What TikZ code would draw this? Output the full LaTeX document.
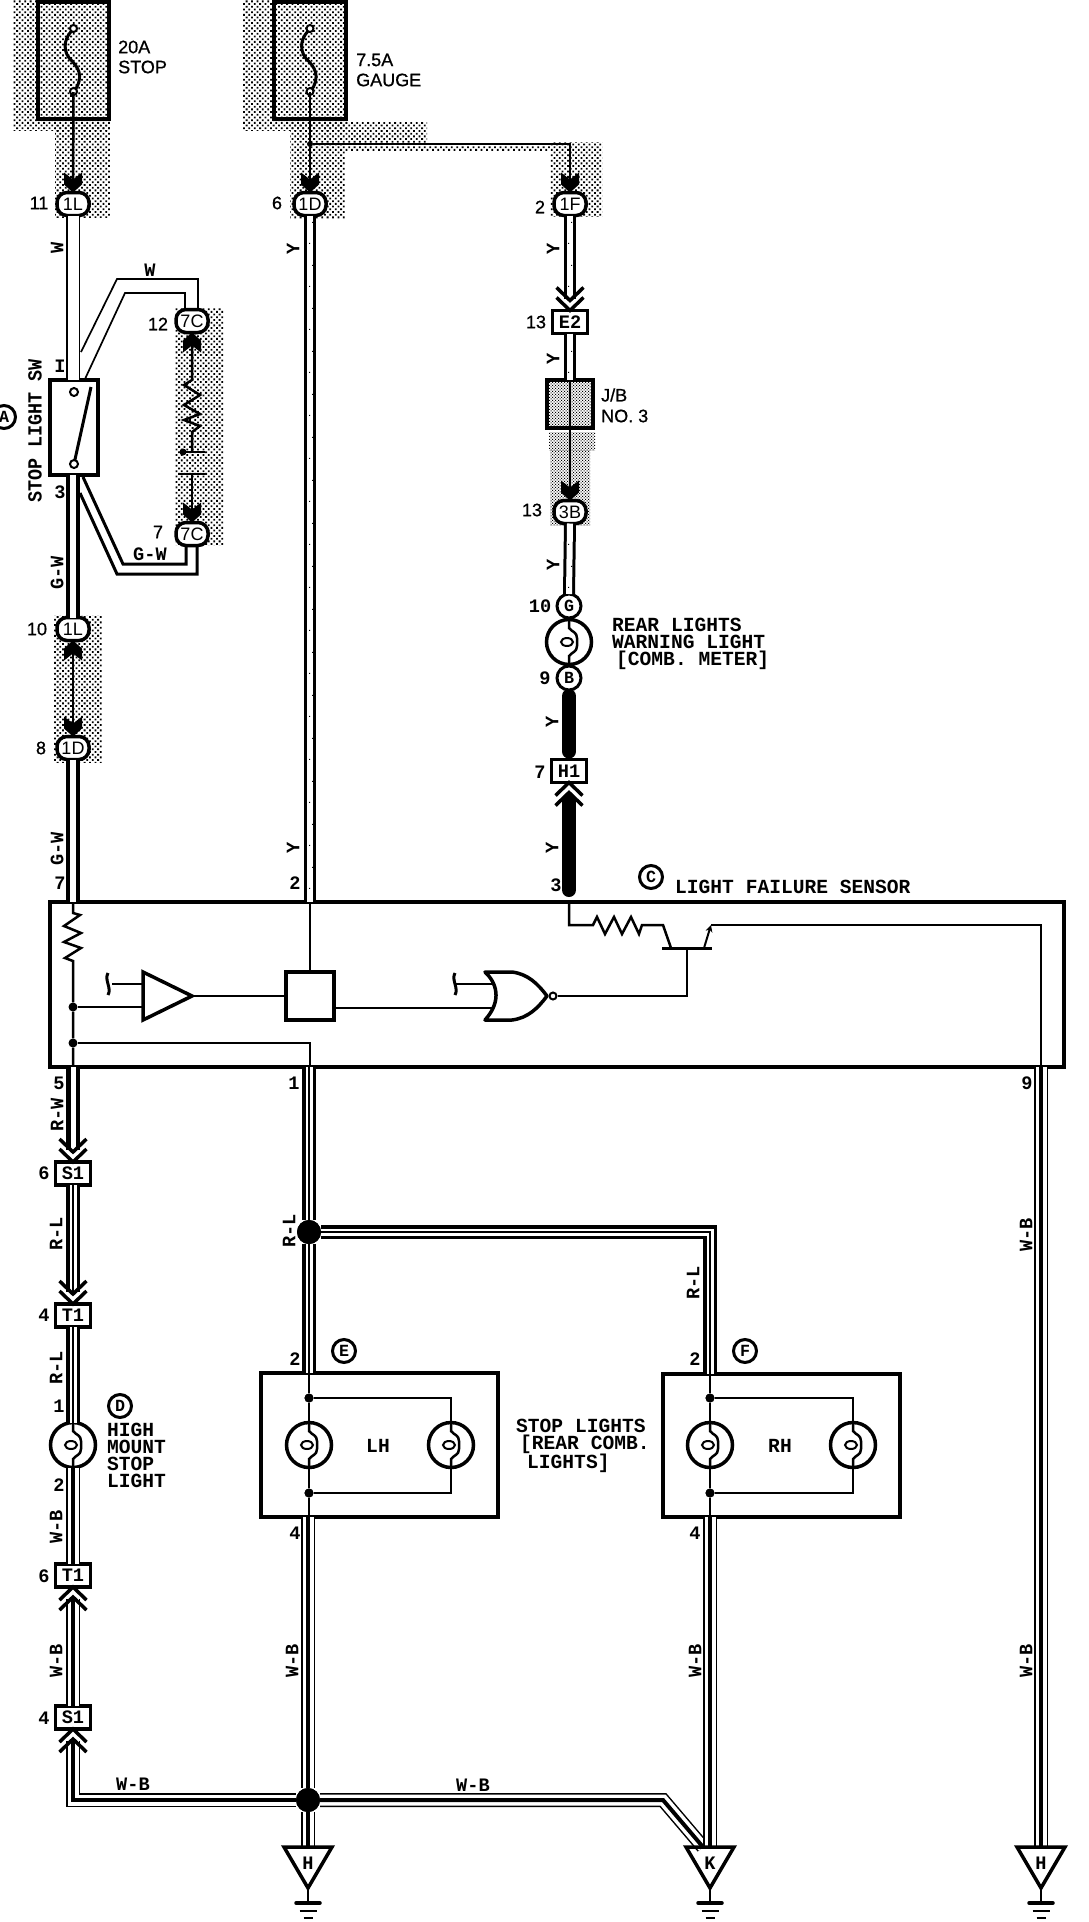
\documentclass[tikz,border=0pt]{standalone}
\usepackage{fontspec}
\usepackage{graphicx}
\usetikzlibrary{patterns,arrows.meta,calc}
\setmainfont{Liberation Sans}
\newfontfamily\sansb[FakeBold=0.8]{Liberation Sans}
\newfontfamily\mn[FakeStretch=0.98]{Liberation Mono}
\pgfdeclarepatternformonly{stipcoarse}{\pgfqpoint{-.1pt}{-.1pt}}{\pgfqpoint{5.9pt}{5.9pt}}{\pgfqpoint{5.4pt}{5.4pt}}{%
 \pgfpathrectangle{\pgfqpoint{0pt}{0pt}}{\pgfqpoint{1.8pt}{1.8pt}}%
 \pgfpathrectangle{\pgfqpoint{2.7pt}{2.7pt}}{\pgfqpoint{1.8pt}{1.8pt}}\pgfusepath{fill}}
\pgfdeclarepatternformonly{stipfine}{\pgfqpoint{-.1pt}{-.1pt}}{\pgfqpoint{3.1pt}{3.1pt}}{\pgfqpoint{3pt}{3pt}}{%
 \pgfpathrectangle{\pgfqpoint{0pt}{0pt}}{\pgfqpoint{1.1pt}{1.1pt}}%
 \pgfpathrectangle{\pgfqpoint{1.5pt}{1.5pt}}{\pgfqpoint{1.1pt}{1.1pt}}\pgfusepath{fill}}
\pgfdeclarepatternformonly{stipsparse}{\pgfqpoint{-.1pt}{-.1pt}}{\pgfqpoint{7.1pt}{43.1pt}}{\pgfqpoint{7pt}{43pt}}{%
 \pgfpathrectangle{\pgfqpoint{1pt}{1pt}}{\pgfqpoint{1.2pt}{1.2pt}}%
 \pgfpathrectangle{\pgfqpoint{4pt}{22pt}}{\pgfqpoint{1.2pt}{1.2pt}}\pgfusepath{fill}}
\newcommand{\rlw}[1]{\draw[rlout] #1; \draw[rlin] #1;}
\newcommand{\wbw}[1]{\draw[wbout] #1; \draw[wbin] #1;}
\tikzset{
 x=1pt,y=-1pt,
 sansl/.style={font=\sansb\fontsize{18}{18}\selectfont,inner sep=0pt},
 monol/.style={font=\mn\bfseries\fontsize{20}{17}\selectfont,inner sep=0pt},
 monosm/.style={font=\mn\bfseries\fontsize{19}{19}\selectfont,inner sep=0pt},
 oval/.style={draw,line width=3.5pt,rounded corners=10pt,fill=white,minimum width=32pt,minimum height=23pt,inner sep=0pt,outer sep=0pt,font=\fontsize{18}{18}\selectfont},
 conbox/.style={draw,line width=3.5pt,fill=white,minimum width=35pt,minimum height=23pt,inner sep=0pt,outer sep=0pt,font=\mn\bfseries\fontsize{19}{19}\selectfont},
 pincirc/.style={draw,circle,line width=3pt,fill=white,minimum size=24pt,inner sep=0pt,outer sep=0pt,font=\mn\bfseries\fontsize{17}{17}\selectfont},
 tagcirc/.style={draw,circle,line width=3pt,fill=white,minimum size=23pt,inner sep=0pt,outer sep=0pt,font=\mn\bfseries\fontsize{17}{17}\selectfont},
 lampc/.style={draw,circle,line width=3.5pt,fill=white,minimum size=45pt,inner sep=0pt,outer sep=0pt},
 frame/.style={draw,line width=4pt,inner sep=0pt,outer sep=0pt},
 dotj/.style={circle,fill=black,minimum size=9pt,inner sep=0pt},
 bigj/.style={circle,fill=black,minimum size=24pt,inner sep=0pt},
 thin1/.style={line width=2.5pt},
 wwire/.style={line width=1.7pt,double=white,double distance=11pt},
 ywire/.style={line width=3pt,double=white,double distance=6pt},
 gwire/.style={line width=4pt,double=white,double distance=5.3pt},
 rlout/.style={line width=3.5pt,double=white,double distance=7pt},
 rlin/.style={line width=1.5pt},
 wbout/.style={line width=1.5pt,double=white,double distance=11pt},
 wbin/.style={line width=4pt},
 blk/.style={line width=14pt,line cap=round},
 stip/.style={pattern=stipcoarse},
 chevline/.style={line width=3.5pt},
 chevd/.pic={\draw[chevline] (-13.5,-13)--(0,0)--(13.5,-13) (-13.5,-23)--(0,-10)--(13.5,-23);},
 chevu/.pic={\draw[chevline] (-13.5,13)--(0,0)--(13.5,13) (-13.5,23)--(0,10)--(13.5,23);},
 arrd/.pic={\fill (-9,-20)--(0,-13)--(9,-20)--(9,-8)--(0,0)--(-9,-8)--cycle;},
 arru/.pic={\fill (-9,20)--(0,13)--(9,20)--(9,8)--(0,0)--(-9,8)--cycle;},
 fil/.pic={\draw[line width=2.5pt] (0,-24)--(0,-14) .. controls (3,-10) and (8,-10) .. (8,-4) -- (8,4) .. controls (8,10) and (3,10) .. (0,14) -- (0,24);
   \draw[line width=2pt] (-2,0) ellipse (6pt and 4pt);},
 fuse/.pic={\draw[line width=3pt] (0,-31) .. controls (-8,-25) and (-12,-12) .. (-4,-2) .. controls (4,6) and (12,15) .. (0,32);
   \draw[line width=2pt,fill=white] (0,-32) circle (3.5pt) (0,31) circle (3.5pt);},
 squig/.pic={\draw[line width=3pt] (0,-11) .. controls (-4,-4) and (4,4) .. (0,11);},
 gnd/.pic={\draw[line width=3.5pt,line join=miter] (-24,0)--(24,0)--(0,41)--cycle;
   \draw[line width=2pt] (0,41)--(0,56);
   \draw[line width=3.5pt,line cap=round] (-12,56)--(12,56);
   \draw[line width=1.6pt] (-8.5,64)--(8.5,64);
   \draw[line width=2.2pt] (-4.5,71)--(4.5,71);},
}
\begin{document}
\begin{tikzpicture}
\useasboundingbox (0,0) rectangle (1088,1922);
\fill[white] (0,0) rectangle (1088,1922);
% stippled regions
\fill[stip] (13,0) rectangle (110,130);
\fill[stip] (55,125) rectangle (110,217);
\fill[stip] (243,0) rectangle (347,130);
\fill[stip] (290,122) rectangle (345,218);
\fill[stip] (345,122) rectangle (427,143);
\fill[stip] (345,146) rectangle (550,150);
\fill[stip] (550,142) rectangle (602,216);
\fill[stip] (175,308) rectangle (223,545);
\fill[stip] (54,615) rectangle (102,762);
\fill[pattern=stipfine] (549,432) rectangle (595,450);
\fill[pattern=stipfine] (550,450) rectangle (590,525);
\fill[pattern=stipfine] (547,380) rectangle (593,428);
% frames
\node[frame,minimum width=71pt,minimum height=117pt] (fuse1) at (73.5,60.5) {};
\node[frame,minimum width=72pt,minimum height=117pt] (fuse2) at (310,60.5) {};
\node[frame,line width=3.5pt,minimum width=48pt,minimum height=95pt] (sw) at (74,427.5) {};
\node[frame,line width=4pt,minimum width=46pt,minimum height=48pt] (jb) at (570,404) {};
\node[frame,minimum width=1014.5pt,minimum height=165pt] (sens) at (556.75,984.5) {};
\node[frame,minimum width=237pt,minimum height=144pt] (boxE) at (379.5,1445) {};
\node[frame,minimum width=237pt,minimum height=143pt] (boxF) at (781.5,1445.5) {};
\node[frame,line width=3.5pt,minimum width=48pt,minimum height=48pt] (sq) at (310,996) {};
% connector nodes
\node[oval] (c1La) at (73,204) {1L};
\node[oval] (c1Db) at (310,204) {1D};
\node[oval] (c1F) at (570,204) {1F};
\node[oval] (c7Ca) at (192,321) {7C};
\node[oval] (c7Cb) at (192,534) {7C};
\node[oval] (c1Lb) at (73,629) {1L};
\node[oval] (c1Da) at (73,748) {1D};
\node[oval] (c3B) at (570,512) {3B};
\node[conbox] (cE2) at (570,322) {E2};
\node[conbox] (cH1) at (569,771) {H1};
\node[conbox] (cS1a) at (73,1173.5) {S1};
\node[conbox] (cT1a) at (73,1315.5) {T1};
\node[conbox] (cT1b) at (73,1575.5) {T1};
\node[conbox] (cS1b) at (73,1717.5) {S1};
\node[pincirc] (cG) at (569,606) {G};
\node[pincirc] (cB) at (569,678) {B};
% lamps
\node[lampc] (lW) at (569,642) {};
\node[lampc] (lD) at (73,1445) {};
\node[lampc] (lE1) at (309,1445) {};
\node[lampc] (lE2) at (451,1445) {};
\node[lampc] (lF1) at (710,1445) {};
\node[lampc] (lF2) at (853,1445) {};
\foreach \n in {lW,lD,lE1,lE2,lF1,lF2} {\pic at (\n) {fil};}
\pic at (fuse1) {fuse};
\pic at (fuse2) {fuse};
% junctions
\node[dotj,minimum size=6pt] (jG) at (310,144) {};
\node[dotj] (j1) at (73,1007) {};
\node[dotj] (j2) at (73,1043) {};
\node[bigj] (jR) at (309,1232) {};
\node[bigj] (jH) at (308,1800) {};
\node[dotj] (jE1) at (309,1398) {};
\node[dotj] (jE2) at (309,1493) {};
\node[dotj] (jF1) at (710,1398) {};
\node[dotj] (jF2) at (710,1493) {};
% named free ends
\coordinate (tH1) at (308,1847);
\coordinate (tK) at (710,1847);
\coordinate (tH2) at (1041,1847);
\coordinate (cornL) at (73,1800);
\coordinate (cornK) at (663,1800);
\coordinate (kEnd) at (703,1847);
\coordinate (cornR) at (710,1232);
\coordinate (f2tee) at (570,144);
% fuse wires
\draw[thin1] (73.5,92) -- (c1La.north);
\draw[thin1] (310,92) -- (c1Db.north);
\draw[thin1] (jG) -- (f2tee) -- (c1F.north);
\pic at (c1La.north) {arrd};
\pic at (c1Db.north) {arrd};
\pic at (c1F.north) {arrd};
% top left double wires
\draw[wwire] (c1La.south) -- (c1La.south |- sw.north);
\draw[line width=1.7pt] (81,352) -- (117,279) -- (198,279) -- (198,309);
\draw[line width=1.7pt] (85,379) -- (125,293) -- (185,293) -- (185,309);
% lower switch branch
\draw[line width=3pt] (83,477) -- (123,564) -- (186,564) -- (186,545);
\draw[line width=3pt] (80,493) -- (117,574) -- (197,574) -- (197,545);
\draw[gwire] (sw.south) ++(-1,0) -- (c1Lb.north);
\draw[thin1] (c1Lb.south) -- (c1Da.north);
\pic at (c1Lb.south) {arru};
\pic at (c1Da.north) {arrd};
\draw[gwire] (c1Da.south) -- (c1Da.south |- sens.north);
% switch interior
\draw[line width=3pt] (74,464) -- (91,387);
\draw[line width=2pt,fill=white] (74,392) circle (4pt) (74,464) circle (4pt);
% 7C branch
\coordinate (r7top) at (192,380);
\coordinate (r7bot) at (192,432);
\draw[line width=2.5pt] (c7Ca.south) -- (r7top) -- (184,385) -- (200,395) -- (184,405) -- (200,414) -- (184,420) -- (200,426) -- (r7bot) -- (192,452);
\draw[line width=2.5pt] (180,452) -- (205,452);
\fill (183,452) circle (3.5pt);
\draw[line width=2.5pt] (178,474) -- (205,474);
\draw[line width=2.5pt] (192,474) -- (c7Cb.north);
\pic at (c7Ca.south) {arru};
\pic at (c7Cb.north) {arrd};
% Y wires
\draw[ywire] (c1Db.south) -- (c1Db.south |- sens.north);
\draw[ywire] (c1F.south) -- ([yshift=12pt]cE2.north);
\pic at (cE2.north) {chevd};
\draw[ywire] (cE2.south) -- (cE2.south |- jb.north);
\draw[thin1] (jb.north) -- (c3B.north);
\pic at (c3B.north) {arrd};
\draw[ywire] (c3B.south) -- (cG.north);
\fill[pattern=stipsparse] (307,218) rectangle (313,900);
\fill[pattern=stipsparse] (567,218) rectangle (573,290);
\fill[pattern=stipsparse] (567,335) rectangle (573,380);
\fill[pattern=stipsparse] (567,526) rectangle (573,590);
% thick black
\draw[blk,shorten <=6pt,shorten >=8pt] (cB.south) -- (cH1.north);
\draw[blk,shorten <=18pt,shorten >=12pt] (cH1.south) -- (cH1.south |- sens.north);
\pic at (cH1.south) {chevu};
% sensor interior
\draw[thin1] (73,902) -- (73,913) -- (80,915) -- (64,926) -- (81,933) -- (64,942) -- (81,948) -- (65,958) -- (73,961) -- (j1) -- (j2) -- (73,1067);
\draw[line width=3.5pt,line join=miter] (143,972) -- (143,1020) -- (192,996) -- cycle;
\draw[thin1] (j1) -- (143,1007);
\draw[thin1] (112,984) -- (143,984);
\pic at (108,984) {squig};
\draw[thin1] (192,996) -- (sq.west);
\draw[thin1] (sq.north) -- (sq.north |- sens.north);
\draw[thin1] (j2) -- (310,1043) -- (310,1067);
\draw[thin1] (sq.east |- 0,1008) -- (494,1008);
\draw[thin1] (455,984) -- (494,984);
\pic at (455,984) {squig};
\draw[line width=3.5pt,line join=round] (485,972) .. controls (496,982) and (503,1000) .. (485,1020) -- (512,1020) .. controls (528,1018) and (538,1008) .. (547,996) .. controls (538,984) and (528,974) .. (512,972) -- cycle;
\node[draw,circle,line width=2pt,fill=white,minimum size=7pt,inner sep=0pt] (bub) at (553,996) {};
\draw[thin1] (bub.east) -- (687,996) -- (687,948);
\draw[thin1] (569,902) -- (569,925) -- (593,925) -- (597,917) -- (605,934) -- (614,917) -- (622,934) -- (631,917) -- (639,934) -- (642,925) -- (663,925) -- (671,948);
\draw[line width=3pt] (662,948) -- (712,948);
\draw[line width=2pt,-{Stealth[length=7pt,width=7pt]}] (704,948) -- (711,925);
\draw[thin1] (711,925) -- (1041,925) -- (1041,1067);
% wires below sensor
\draw[gwire,line width=4.5pt,double distance=5pt,shorten >=12pt] (cS1a.north |- sens.south) -- (cS1a.north);
\pic at (cS1a.north) {chevd};
\rlw{(cS1a.south) -- ([yshift=12pt]cT1a.north)}
\pic at (cT1a.north) {chevd};
\rlw{(cT1a.south) -- (lD.north)}
\wbw{(lD.south) -- (cT1b.north)}
\wbw{([yshift=-12pt]cT1b.south) -- (cS1b.north)}
\pic at (cT1b.south) {chevu};
\wbw{([yshift=-12pt]cS1b.south) -- (cornL) -- (jH)}
\pic at (cS1b.south) {chevu};
\wbw{(jH) -- (cornK) -- (kEnd)}
\rlw{(jR |- sens.south) -- (jR)}
\rlw{(jR) -- (boxE.north -| jR)}
\rlw{(jR) -- (cornR) -- (boxF.north -| lF1)}
\wbw{(boxE.south -| jH) -- (jH)}
\wbw{(jH) -- (tH1)}
\wbw{(boxF.south -| lF1) -- (tK)}
\wbw{(tH2 |- sens.south) -- (tH2)}
\node[bigj] at (jR) {};
\node[bigj] at (jH) {};
\pic at (tH1) {gnd};
\pic at (tK) {gnd};
\pic at (tH2) {gnd};
% lamp boxes interior
\draw[thin1] (boxE.north -| lE1) -- (jE1) -- (lE1.north);
\draw[thin1] (lE1.south) -- (jE2) -- (boxE.south -| lE1);
\draw[thin1] (jE1) -- (lE2 |- jE1) -- (lE2.north);
\draw[thin1] (jE2) -- (lE2 |- jE2) -- (lE2.south);
\draw[thin1] (boxF.north -| lF1) -- (jF1) -- (lF1.north);
\draw[thin1] (lF1.south) -- (jF2) -- (boxF.south -| lF1);
\draw[thin1] (jF1) -- (lF2 |- jF1) -- (lF2.north);
\draw[thin1] (jF2) -- (lF2 |- jF2) -- (lF2.south);
\node[dotj] at (jE1) {};\node[dotj] at (jE2) {};\node[dotj] at (jF1) {};\node[dotj] at (jF2) {};
% tag circles
\node[tagcirc] (tA) at (4,417) {A};
\node[tagcirc] (tC) at (651,877) {C};
\node[tagcirc] (tD) at (120,1406) {D};
\node[tagcirc] (tE) at (344,1351) {E};
\node[tagcirc] (tF) at (745,1351) {F};
% sans labels
\node[sansl,anchor=west,align=left] (t20A) at (118,47) {20A};
\node[sansl,anchor=west,align=left] (tSTOP) at (118,67) {STOP};
\node[sansl,anchor=west] (t75A) at (356,60) {7.5A};
\node[sansl,anchor=west] (tGAUGE) at (356,80) {GAUGE};
\node[sansl,anchor=west] (tJB) at (601,395) {J/B};
\node[sansl,anchor=west] (tNO) at (601,416) {NO. 3};
\node[sansl] (n11) at (39,203) {11};
\node[sansl] (n6a) at (277,203) {6};
\node[sansl] (n2a) at (540,207) {2};
\node[sansl] (n12) at (158,324) {12};
\node[sansl] (n7a) at (158,532) {7};
\node[sansl] (n10a) at (37,629) {10};
\node[sansl] (n8) at (41,748) {8};
\node[sansl] (n13a) at (536,322) {13};
\node[sansl] (n13b) at (532,510) {13};
% mono labels
\node[monosm] (n1t) at (60,366) {I};
\node[monosm] (n3a) at (60,492) {3};
\node[monosm] (n7b) at (60,883) {7};
\node[monosm] (n2b) at (295,883) {2};
\node[monosm] (n10b) at (540,606) {10};
\node[monosm] (n9a) at (545,678) {9};
\node[monosm] (n7c) at (540,772) {7};
\node[monosm] (n3b) at (556,885) {3};
\node[monosm] (n5) at (59,1083) {5};
\node[monosm] (n1b) at (294,1083) {1};
\node[monosm] (n9b) at (1027,1083) {9};
\node[monosm] (n6b) at (44,1173) {6};
\node[monosm] (n4a) at (44,1315) {4};
\node[monosm] (n1c) at (59,1406) {1};
\node[monosm] (n2c) at (59,1485) {2};
\node[monosm] (n6c) at (44,1576) {6};
\node[monosm] (n4b) at (44,1718) {4};
\node[monosm] (n2d) at (295,1359) {2};
\node[monosm] (n4c) at (295,1533) {4};
\node[monosm] (n2e) at (695,1359) {2};
\node[monosm] (n4d) at (695,1533) {4};
% wire colour labels
\node[monosm] (wW) at (150,270) {W};
\node[monosm] (wGW) at (150,554) {G-W};
\node[monosm,rotate=90] (w1) at (57,248) {W};
\node[monosm,rotate=90] (w2) at (293,249) {Y};
\node[monosm,rotate=90] (w3) at (553,249) {Y};
\node[monosm,rotate=90] (w4) at (553,359) {Y};
\node[monosm,rotate=90] (w5) at (553,565) {Y};
\node[monosm,rotate=90] (w6) at (552,722) {Y};
\node[monosm,rotate=90] (w7) at (552,848) {Y};
\node[monosm,rotate=90] (w8) at (293,848) {Y};
\node[monosm,rotate=90] (w9) at (57,573) {G-W};
\node[monosm,rotate=90] (w10) at (57,849) {G-W};
\node[monosm,rotate=90] (w11) at (57,1115) {R-W};
\node[monosm,rotate=90] (w12) at (56,1234) {R-L};
\node[monosm,rotate=90] (w13) at (56,1368) {R-L};
\node[monosm,rotate=90] (w14) at (289,1231) {R-L};
\node[monosm,rotate=90] (w15) at (693,1283) {R-L};
\node[monosm,rotate=90] (w16) at (56,1527) {W-B};
\node[monosm,rotate=90] (w17) at (56,1661) {W-B};
\node[monosm,rotate=90] (w18) at (292,1661) {W-B};
\node[monosm,rotate=90] (w19) at (695,1661) {W-B};
\node[monosm,rotate=90] (w20) at (1026,1235) {W-B};
\node[monosm,rotate=90] (w21) at (1026,1661) {W-B};
\node[monosm] (w22) at (133,1784) {W-B};
\node[monosm] (w23) at (473,1785) {W-B};
% mono descriptions
\node[monol,rotate=90] (tSW) at (35,431) {\scalebox{0.94}[1]{STOP LIGHT SW}};
\node[monol,anchor=west,align=left] (tRear) at (612,644) {REAR LIGHTS\\WARNING LIGHT\\\hspace*{4pt}[COMB. METER]};
\node[monol,anchor=west] (tLFS) at (675,887) {LIGHT FAILURE SENSOR};
\node[monol,anchor=west,align=left] (tHigh) at (107,1455) {HIGH\\MOUNT\\STOP\\LIGHT};
\node[monol,anchor=west,align=left] (tStop) at (516,1446) {STOP LIGHTS\\\hspace*{4pt}[REAR COMB.\\\hspace*{11pt}LIGHTS]};
\node[monol] (tLH) at (378,1446) {LH};
\node[monol] (tRH) at (780,1446) {RH};
\node[monosm] (gH1) at (308,1863) {H};
\node[monosm] (gK) at (710,1863) {K};
\node[monosm] (gH2) at (1041,1863) {H};
\end{tikzpicture}
\end{document}
